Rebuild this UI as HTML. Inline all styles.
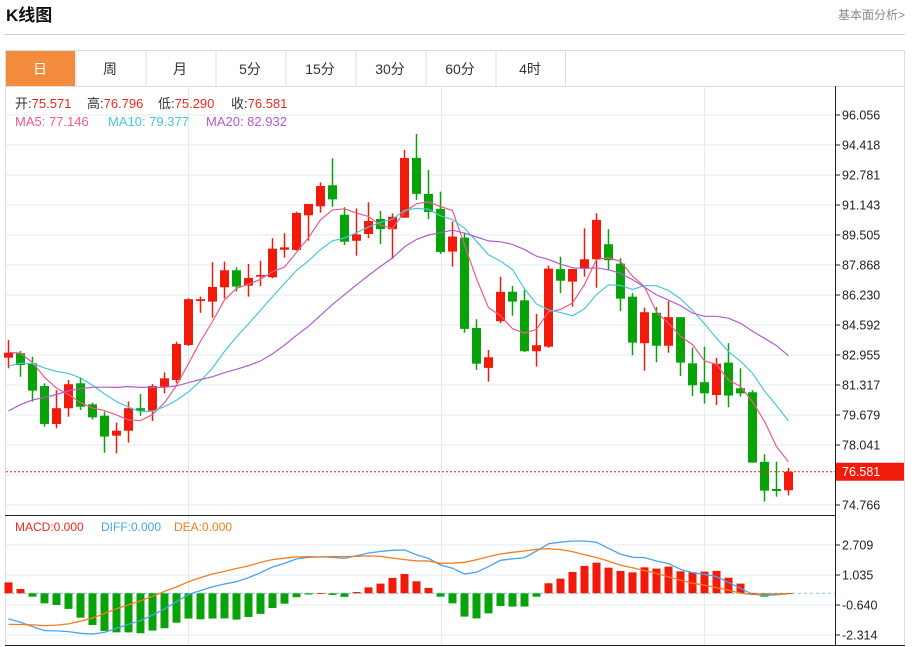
<!DOCTYPE html>
<html><head><meta charset="utf-8"><style>
html,body{margin:0;padding:0;background:#fff;width:915px;height:647px;overflow:hidden}
svg{display:block;font-family:"Liberation Sans","Noto Sans CJK SC",sans-serif}
</style></head><body>
<svg id="chart" width="915" height="647" viewBox="0 0 915 647" xmlns="http://www.w3.org/2000/svg">
<text x="6" y="21" font-size="17" font-weight="bold" fill="#111">K线图</text>
<text x="838" y="19" font-size="12" fill="#888">基本面分析&gt;</text>
<line x1="4" y1="34.5" x2="905" y2="34.5" stroke="#d0d0d0"/>
<g>
<rect x="5.5" y="50.5" width="899" height="36" fill="#fff" stroke="#ddd"/>
<rect x="6" y="51" width="69" height="35" fill="#f28c3c"/>
</g>
<g id="tabs"></g>
<g id="grid"></g>
<g id="macd"></g>
<g id="candles"></g>
<g id="ma"></g>
<g id="axes"></g>
<g font-size="13">
<text x="15" y="108" fill="#333">开:<tspan fill="#f0281e">75.571</tspan></text>
<text x="87" y="108" fill="#333">高:<tspan fill="#f0281e">76.796</tspan></text>
<text x="158" y="108" fill="#333">低:<tspan fill="#f0281e">75.290</tspan></text>
<text x="231" y="108" fill="#333">收:<tspan fill="#f0281e">76.581</tspan></text>
</g>
<g font-size="13">
<text x="15" y="126" fill="#ee5a8a">MA5: 77.146</text>
<text x="108" y="126" fill="#45c8dc">MA10: 79.377</text>
<text x="206" y="126" fill="#b35ccc">MA20: 82.932</text>
</g>
<g font-size="12">
<text x="15" y="531" fill="#f0281e">MACD:0.000</text>
<text x="101" y="531" fill="#4aa3f0">DIFF:0.000</text>
<text x="174" y="531" fill="#f57c1e">DEA:0.000</text>
</g>
</svg>
<script>
const opens  = [82.81,83.05,82.50,81.26,79.19,80.05,81.41,80.26,79.64,78.55,78.82,80.05,79.91,81.22,81.59,83.50,85.90,85.87,86.65,87.58,86.74,87.23,87.20,88.70,88.69,90.58,91.07,92.22,90.61,89.19,89.56,90.38,89.82,90.45,93.71,91.75,90.93,88.60,89.36,84.43,82.25,84.80,86.41,85.94,83.16,83.41,87.64,86.96,87.69,88.18,89.00,87.94,86.14,83.60,85.26,83.46,85.02,82.50,81.47,80.77,82.54,81.14,80.92,77.12,75.64,75.571];
const highs  = [83.77,83.17,82.86,81.41,81.04,81.59,81.74,80.35,79.86,79.26,80.41,80.83,81.37,82.01,83.68,86.05,86.14,88.02,88.05,87.74,87.92,88.10,89.33,89.60,90.78,91.20,92.38,93.69,91.02,90.96,91.29,90.82,90.69,94.15,95.02,93.06,91.87,90.24,89.60,84.91,83.23,87.23,86.72,86.51,85.20,87.83,88.32,87.65,89.87,90.69,89.82,88.24,86.33,85.54,85.58,85.90,85.02,83.36,83.41,82.79,83.60,82.23,81.04,77.54,77.13,76.796];
const lows   = [82.23,81.77,80.41,79.04,78.95,79.59,79.95,79.44,77.62,77.59,78.17,79.63,79.35,80.86,81.41,83.45,85.26,84.99,86.05,86.41,86.14,86.72,87.14,88.27,88.65,89.19,90.72,91.05,88.96,88.38,89.33,89.02,88.20,90.45,91.42,90.36,88.47,87.78,84.17,82.14,81.50,84.69,85.10,83.11,82.32,83.35,86.33,85.59,87.23,86.63,87.56,85.36,82.94,82.10,82.56,83.08,81.81,80.72,80.30,80.23,80.10,80.68,77.08,74.95,75.22,75.290];
const closes = [83.08,82.41,81.01,79.19,80.05,81.36,80.13,79.55,78.50,78.82,80.05,79.91,81.26,81.68,83.56,86.00,86.00,86.67,87.58,86.69,87.16,87.32,88.76,88.83,90.71,91.20,92.18,91.45,89.14,89.54,90.27,89.83,90.50,93.71,91.75,90.76,88.58,89.42,84.38,82.48,82.83,86.40,85.87,83.16,83.49,87.67,87.01,87.65,88.18,90.33,88.13,86.03,83.63,85.29,83.46,85.02,82.54,81.30,80.86,82.48,80.74,80.86,77.08,75.55,75.53,76.581];
const priorCloses = [75.5,75.9,76.4,76.9,77.3,77.7,78.1,78.5,79.0,79.2,80.8,81.2,81.6,82.0,82.4,82.6,83.6,83.2,83.0];
const diffValues = [-1.43,-1.62,-1.86,-2.08,-2.10,-2.14,-2.23,-2.27,-2.18,-1.95,-1.73,-1.53,-1.21,-0.87,-0.47,-0.06,0.15,0.37,0.52,0.65,0.87,1.15,1.47,1.67,1.92,2.01,2.03,2.01,1.95,2.10,2.25,2.33,2.40,2.42,2.15,1.95,1.58,1.40,1.08,1.17,1.49,1.84,1.92,1.99,2.36,2.77,2.85,2.92,2.92,2.85,2.51,2.19,2.01,1.99,1.80,1.66,1.34,1.15,1.06,0.93,0.61,0.28,-0.06,-0.11,-0.09,-0.02];
const macdHist = [0.61,0.24,-0.19,-0.56,-0.65,-0.87,-1.36,-1.77,-2.10,-2.18,-2.18,-2.23,-2.08,-1.95,-1.64,-1.41,-1.45,-1.41,-1.40,-1.47,-1.32,-1.15,-0.82,-0.58,-0.22,-0.07,0.01,-0.09,-0.20,0.07,0.33,0.54,0.86,1.08,0.67,0.30,-0.19,-0.56,-1.30,-1.40,-1.12,-0.71,-0.74,-0.74,-0.19,0.56,0.82,1.19,1.53,1.71,1.43,1.25,1.17,1.45,1.38,1.49,1.23,1.17,1.21,1.25,0.87,0.54,0.02,-0.19,-0.09,0.01];
const priceTicks = ["96.056","94.418","92.781","91.143","89.505","87.868","86.230","84.592","82.955","81.317","79.679","78.041","76.766","74.766"];
const macdTicks = ["2.709","1.035","-0.640","-2.314"];
const tabLabels = ["日","周","月","5分","15分","30分","60分","4时"];
const lastPrice = 76.581;

const NS="http://www.w3.org/2000/svg";
function mk(tag,attrs,parent,text){const e=document.createElementNS(NS,tag);for(const k in attrs)e.setAttribute(k,attrs[k]);if(text!==undefined)e.textContent=text;parent.appendChild(e);return e;}
const xOf=i=>8.5+12*i;
const yP=v=>115+(96.056-v)*18.318;
const yM=v=>593.3-v*17.92;
const RED="#f21a0a",GREEN="#08a308";

// tabs
const tabs=document.getElementById('tabs');
tabLabels.forEach((t,i)=>{
  const g=mk('g',{},tabs);
  
  
  if(i>0) mk('line',{x1:5.5+70*i+0.5,y1:51,x2:5.5+70*i+0.5,y2:86,stroke:'#ddd'},g);
  mk('text',{x:40+70*i,y:74,'font-size':14,'text-anchor':'middle',fill:i===0?'#fff':'#333'},g,t);
});
mk('line',{x1:565.5,y1:51,x2:565.5,y2:86,stroke:'#ddd'},tabs);

// grid
const grid=document.getElementById('grid');
for(let k=0;k<14;k++){const y=115+30*k;mk('line',{x1:6,y1:y,x2:835,y2:y,stroke:'#e3ebf2'},grid);}
[545,575,605,635].forEach(y=>mk('line',{x1:6,y1:y,x2:835,y2:y,stroke:'#e3ebf2'},grid));
[188.5,441.5,704.5].forEach(x=>mk('line',{x1:x,y1:86,x2:x,y2:645,stroke:'#e3ebf2'},grid));
// frame
mk('line',{x1:5.5,y1:86,x2:5.5,y2:645,stroke:'#ddd'},grid);
mk('line',{x1:904.5,y1:86,x2:904.5,y2:645,stroke:'#ddd'},grid);
mk('line',{x1:5,y1:645.5,x2:905,y2:645.5,stroke:'#222'},grid);
mk('line',{x1:5,y1:515.5,x2:835,y2:515.5,stroke:'#222'},grid);

// MACD
const macd=document.getElementById('macd');
mk('line',{x1:6,y1:593.3,x2:835,y2:593.3,stroke:'#7fc8ea','stroke-dasharray':'3,3'},macd);
macdHist.forEach((h,i)=>{
  const y0=yM(0),y1=yM(h);
  const r=mk('rect',{x:xOf(i)-4,y:Math.min(y0,y1),width:8,height:Math.max(0.8,Math.abs(y1-y0)),fill:h>=0?RED:GREEN},macd);
  
  
});
const deaValues=diffValues.map((d,i)=>d-macdHist[i]/2);
const diffLine=mk('polyline',{points:diffValues.map((v,i)=>xOf(i)+','+yM(v).toFixed(1)).join(' '),fill:'none',stroke:'#4aa3f0','stroke-width':1.3},macd);


const deaLine=mk('polyline',{points:deaValues.map((v,i)=>xOf(i)+','+yM(v).toFixed(1)).join(' '),fill:'none',stroke:'#f57c1e','stroke-width':1.3},macd);



// candles
const cg=document.getElementById('candles');
closes.forEach((c,i)=>{
  const o=opens[i],up=c>=o,col=up?RED:GREEN,x=xOf(i);
  const g=mk('g',{},cg);
  
  
  mk('line',{x1:x,y1:yP(highs[i]),x2:x,y2:yP(lows[i]),stroke:col,'stroke-width':1.5},g);
  const yt=yP(Math.max(o,c)),yb=yP(Math.min(o,c));
  mk('rect',{x:x-4.5,y:yt,width:9,height:Math.max(1.5,yb-yt),fill:col},g);
});

// moving averages
const all=priorCloses.concat(closes);
function ma(n){return closes.map((_,i)=>{const j=i+priorCloses.length;let s=0,c=0;for(let k=j-n+1;k<=j;k++){if(k>=0){s+=all[k];c++;}}return s/c;});}
const maG=document.getElementById('ma');
[[5,'#ee5a8a','ma5-line'],[10,'#45c8dc','ma10-line'],[20,'#b35ccc','ma20-line']].forEach(([n,col,name])=>{
  const vals=ma(n);
  const p=mk('polyline',{points:vals.map((v,i)=>xOf(i)+','+yP(v).toFixed(1)).join(' '),fill:'none',stroke:col,'stroke-width':1.2},maG);
  
  
});

// axes
const ax=document.getElementById('axes');
mk('line',{x1:835.5,y1:86,x2:835.5,y2:645,stroke:'#222'},ax);
priceTicks.forEach((t,k)=>{
  const y=115+30*k;
  if(k===12) return;
  mk('line',{x1:835,y1:y,x2:840,y2:y,stroke:'#222'},ax);
  const tx=mk('text',{x:842,y:y+4.5,'font-size':12.5,fill:'#222'},ax,t);
  
  
});
mk('line',{x1:835,y1:475,x2:840,y2:475,stroke:'#222'},ax);
macdTicks.forEach((t,k)=>{
  const y=545+30*k;
  mk('line',{x1:835,y1:y,x2:840,y2:y,stroke:'#222'},ax);
  const tx=mk('text',{x:842,y:y+4.5,'font-size':12.5,fill:'#222'},ax,t);
  
  
});
const ly=yP(lastPrice);
const pl=mk('line',{x1:6,y1:ly,x2:835,y2:ly,stroke:'#f21a0a','stroke-dasharray':'2,2'},ax);


const box=mk('rect',{x:836,y:ly-9,width:68,height:18,fill:'#f21a0a'},ax);


mk('text',{x:842,y:ly+4.5,'font-size':12.5,fill:'#fff'},ax,lastPrice.toFixed(3));
</script>
</body></html>
